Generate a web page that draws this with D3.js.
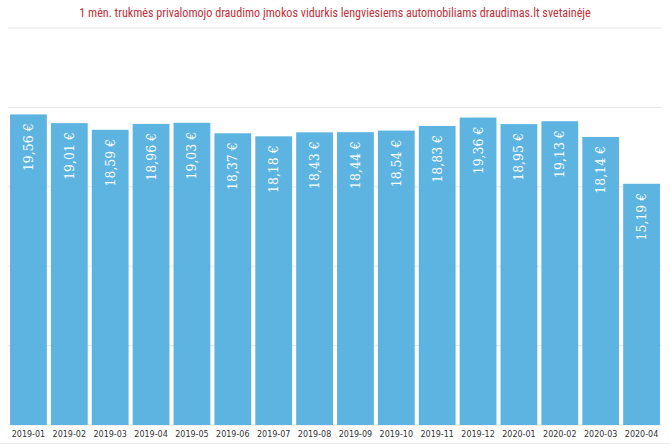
<!DOCTYPE html>
<html><head><meta charset="utf-8">
<script src="https://cdn.jsdelivr.net/npm/d3@7"></script>
<style>html,body{margin:0;padding:0;background:#fff;}svg{display:block;}</style>
</head><body>
<script>
const title = "1 mėn. trukmės privalomojo draudimo įmokos vidurkis lengviesiems automobiliams draudimas.lt svetainėje";
const months = ["2019-01","2019-02","2019-03","2019-04","2019-05","2019-06","2019-07","2019-08","2019-09","2019-10","2019-11","2019-12","2020-01","2020-02","2020-03","2020-04"];
const values = [19.56,19.01,18.59,18.96,19.03,18.37,18.18,18.43,18.44,18.54,18.83,19.36,18.95,19.13,18.14,15.19];
const yTicks = [0,5,10,15,20,25];

const W = 670, H = 446;
const svg = d3.select("body").append("svg").attr("width", W).attr("height", H);

const x = d3.scaleBand().domain(months).range([8, 662]).paddingInner(0.1).paddingOuter(0.05);
const y = d3.scaleLinear().domain([0, 25]).range([425, 28]);

svg.append("text").attr("x", 335).attr("y", 17).attr("text-anchor", "middle")
  .attr("fill", "#c0303a").style("font-family", "'Liberation Sans Narrow','Roboto Condensed','DejaVu Sans Condensed',sans-serif")
  .style("font-size", "12.1px").text(title);

// gridlines
svg.append("g").selectAll("line").data(yTicks).join("line")
  .attr("x1", 8).attr("x2", 662).attr("y1", d => y(d)).attr("y2", d => y(d))
  .attr("stroke", "#e6e6e6").attr("stroke-width", 1);

// bars
svg.append("g").selectAll("rect").data(values).join("rect")
  .attr("x", (d, i) => x(months[i])).attr("width", x.bandwidth())
  .attr("y", d => y(d)).attr("height", d => y(0) - y(d)).attr("fill", "#5eb4e1");

// labels
const fmt = v => v.toFixed(2).replace(".", ",") + " €";
svg.append("g").selectAll("text").data(values).join("text")
  .attr("transform", (d, i) => `translate(${x(months[i]) + x.bandwidth()/2},${y(d) + 9}) rotate(-90)`)
  .attr("text-anchor", "end").attr("dominant-baseline", "central")
  .attr("fill", "#fff").style("font-family", "'DejaVu Serif','Liberation Serif',serif")
  .style("font-size", "12.5px").text(fmt);

// x axis
const xAxis = svg.append("g").attr("transform", "translate(0,425)")
  .call(d3.axisBottom(x).tickSize(0).tickPadding(6));
xAxis.select(".domain").remove();
xAxis.selectAll("text").attr("fill", "#333").style("font-family", "'DejaVu Sans',sans-serif").style("font-size", "8px");

svg.append("line").attr("x1", 0).attr("x2", W).attr("y1", 443.5).attr("y2", 443.5).attr("stroke", "#e8e8e8");
</script>
</body></html>
